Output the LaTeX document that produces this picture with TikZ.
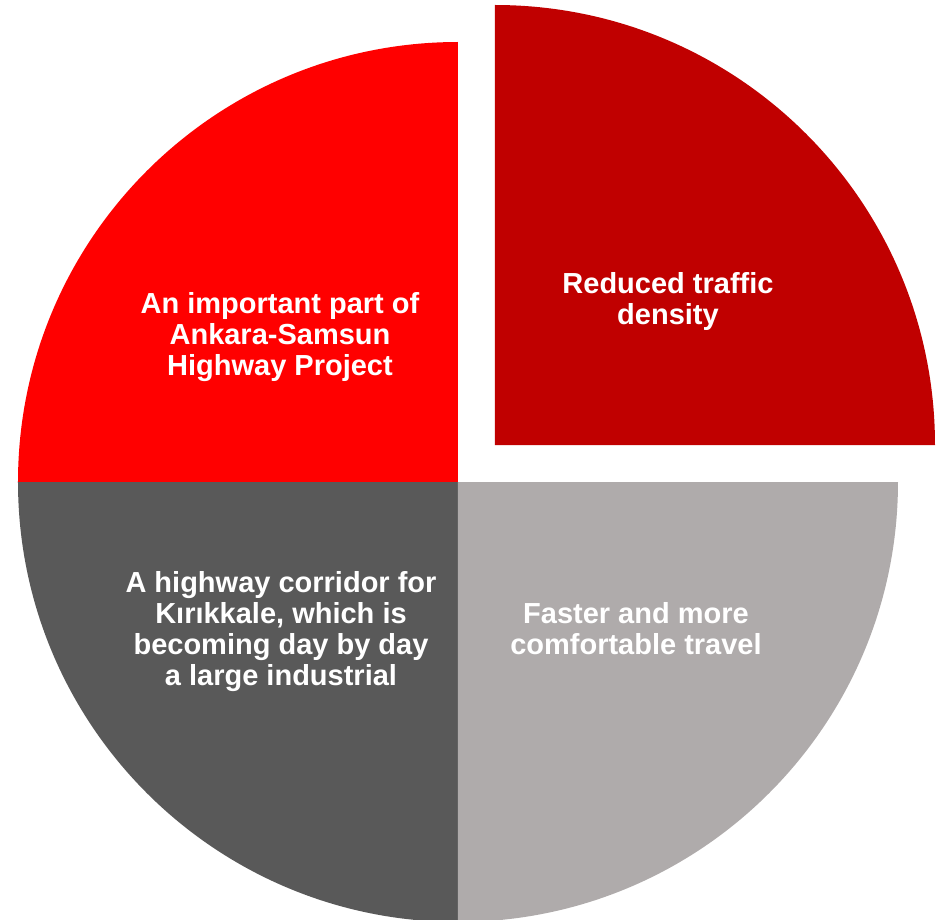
\documentclass[tikz,border=0pt]{standalone}
\usepackage{fontspec}
\setmainfont{Liberation Sans}
\usetikzlibrary{positioning}

\definecolor{sliceRed}{HTML}{FF0000}
\definecolor{sliceDarkRed}{HTML}{C00000}
\definecolor{sliceDarkGray}{HTML}{595959}
\definecolor{sliceLightGray}{HTML}{AFABAB}

\begin{document}
\begin{tikzpicture}[x=1pt, y=1pt,
		slicetext/.style={text=white, align=center, font=\fontsize{29}{31}\selectfont\bfseries}]
		\useasboundingbox (-458,-437) rectangle (485,482);
		% the four quarters, top right one pulled out
		\fill [sliceRed] (0,0) -- (90:440) arc (90:180:440) -- cycle;
		\fill [sliceDarkGray] (0,0) -- (180:440) arc (180:270:440) -- cycle;
		\fill [sliceLightGray] (0,0) -- (270:440) arc (270:360:440) -- cycle;
		\fill [sliceDarkRed, shift={(37,37)}] (0,0) -- (0:440) arc (0:90:440) -- cycle;
		% labels
		\node [slicetext] (project) at (-178,145) {An important part of\\Ankara-Samsun\\Highway Project};
		\node [slicetext] (traffic) at (210,180) {Reduced traffic\\density};
		\node [slicetext] (corridor) at (-177,-150) {A highway corridor for\\Kırıkkale, which is\\becoming day by day\\a large industrial};
		\node [slicetext] (travel) at (178,-147) {Faster and more\\comfortable travel};
	\end{tikzpicture}
\end{document}
